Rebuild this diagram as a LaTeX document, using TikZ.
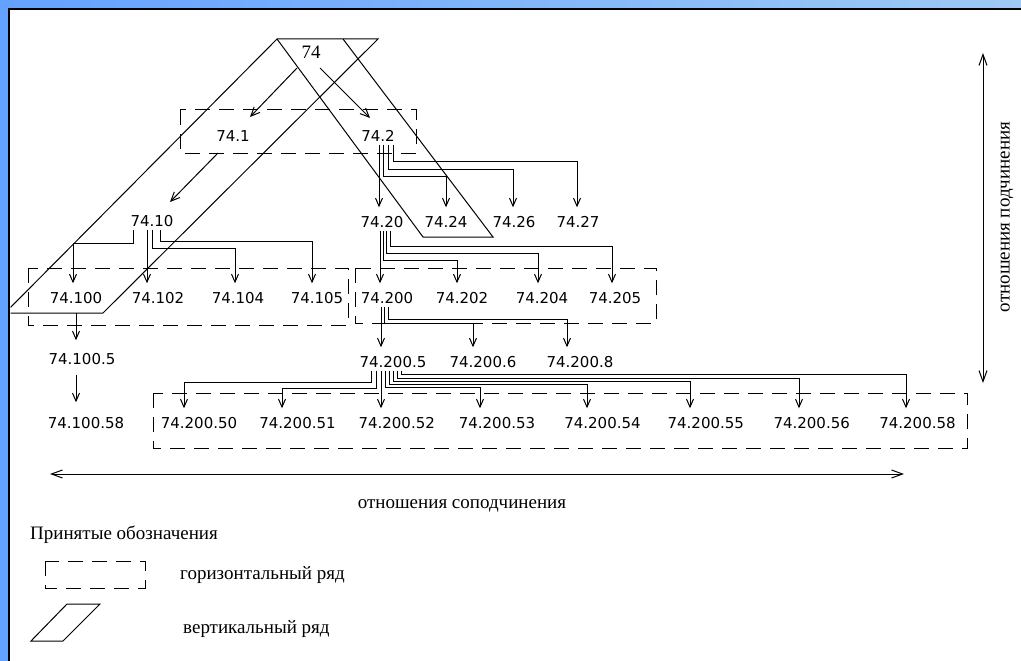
\documentclass[tikz,border=0pt]{standalone}
\usepackage{fontspec}
\setmainfont{Liberation Serif}
\newfontfamily\lblfont{DejaVu Sans}
\usetikzlibrary{arrows.meta}
\definecolor{bgL}{RGB}{100,162,255}
\definecolor{bgR}{RGB}{158,202,244}
\begin{document}
\begin{tikzpicture}[x=1pt,y=-1pt,
  lbl/.style={font=\lblfont\fontsize{15}{17}\selectfont, inner xsep=0pt, inner ysep=3pt, text height=11pt, text depth=0pt},
  ser/.style={font=\fontsize{19}{22}\selectfont, inner sep=0pt},
  arr/.style={line width=1pt, -{Straight Barb[length=8pt,width=7pt]}, shorten >=6pt},
  darr/.style={line width=1pt, -{Straight Barb[length=9pt,width=8pt]}},
  dbox/.style={line width=1pt, dash pattern=on 15pt off 9pt},
  par/.style={line width=1pt, line join=miter},
  big/.style={line width=1pt, {Straight Barb[length=11pt,width=8pt]}-{Straight Barb[length=11pt,width=8pt]}}
]
\useasboundingbox (0,0) rectangle (1021,661);
\shade[left color=bgL,right color=bgR] (0,0) rectangle (1021,661);
\fill[white] (9,9) rectangle (1021,661);
\draw[line width=2.5pt] (9,661) -- (9,9) -- (1021,9);

% vertical rows (parallelograms)
\begin{scope}
\clip (10.5,10.5) rectangle (1021,661);
\draw[par] (277,39) -- (378,39) -- (103,313) -- (5,313) -- cycle;
\draw[par] (277,39) -- (423,237) -- (493,237) -- (343,39);
\end{scope}

% horizontal rows (dashed boxes)
\draw[dbox] (180,110) rectangle (416,153);
\draw[dbox] (28,268) rectangle (348,325);
\draw[dbox] (355,268) rectangle (656,323);
\draw[dbox] (153,393) rectangle (967,448);

% nodes
\node[ser] (n74) at (311,52) {74};
\node[lbl] (n741) at (233,136) {74.1};
\node[lbl] (n742) at (378,136) {74.2};
\node[lbl] (n7410) at (152,221) {74.10};
\node[lbl] (n7420) at (382,222) {74.20};
\node[lbl] (n7424) at (446,222) {74.24};
\node[lbl] (n7426) at (514,222) {74.26};
\node[lbl] (n7427) at (578,222) {74.27};
\node[lbl] (n74100) at (76,298) {74.100};
\node[lbl] (n74102) at (158,298) {74.102};
\node[lbl] (n74104) at (238,298) {74.104};
\node[lbl] (n74105) at (317,298) {74.105};
\node[lbl] (n74200) at (387,298) {74.200};
\node[lbl] (n74202) at (462,298) {74.202};
\node[lbl] (n74204) at (542,298) {74.204};
\node[lbl] (n74205) at (615,298) {74.205};
\node[lbl] (n741005) at (82,359) {74.100.5};
\node[lbl] (n742005) at (393,362) {74.200.5};
\node[lbl] (n742006) at (483,362) {74.200.6};
\node[lbl] (n742008) at (580,362) {74.200.8};
\node[lbl] (n7410058) at (86,423) {74.100.58};
\node[lbl] (c50) at (199,423) {74.200.50};
\node[lbl] (c51) at (297.5,423) {74.200.51};
\node[lbl] (c52) at (396.7,423) {74.200.52};
\node[lbl] (c53) at (497,423) {74.200.53};
\node[lbl] (c54) at (602.5,423) {74.200.54};
\node[lbl] (c55) at (705.8,423) {74.200.55};
\node[lbl] (c56) at (811.7,423) {74.200.56};
\node[lbl] (c58) at (917.5,423) {74.200.58};

% diagonal arrows
\draw[darr] ([xshift=-14pt,yshift=-16pt]n74.center) -- ([xshift=17pt,yshift=19pt]n741.center);
\draw[darr] ([xshift=9pt,yshift=-16pt]n74.center) -- ([xshift=-8pt,yshift=18pt]n742.center);
\draw[darr] ([xshift=-15pt,yshift=-17pt]n741.center) -- ([xshift=18pt,yshift=19pt]n7410.center);

% 74.2 children
\draw[arr] ([xshift=1pt]n742.south) -- ([xshift=-3pt]n7420.north);
\draw[arr] ([xshift=5pt]n742.south) -- ++(0,31.5) -| (n7424.north);
\draw[arr] ([xshift=10pt]n742.south) -- ++(0,24.5) -| ([xshift=-1pt]n7426.north);
\draw[arr] ([xshift=15pt]n742.south) -- ++(0,16.5) -| ([xshift=-1pt]n7427.north);

% 74.20 children
\draw[arr] ([xshift=-2pt]n7420.south) -- ([xshift=-7pt]n74200.north);
\draw[arr] ([xshift=1pt]n7420.south) -- ++(0,29.5) -| ([xshift=-5pt]n74202.north);
\draw[arr] ([xshift=4pt]n7420.south) -- ++(0,22.5) -| ([xshift=-4pt]n74204.north);
\draw[arr] ([xshift=8pt]n7420.south) -- ++(0,15.5) -| ([xshift=-3pt]n74205.north);

% 74.10 children
\draw[arr] ([xshift=-19pt]n7410.south) -- ++(0,13.5) -| ([xshift=-3pt]n74100.north);
\draw[arr] ([xshift=-5pt]n7410.south) -- ([xshift=-11pt]n74102.north);
\draw[arr] (n7410.south) -- ++(0,18.5) -| ([xshift=-3pt]n74104.north);
\draw[arr] ([xshift=8pt]n7410.south) -- ++(0,11.5) -| ([xshift=-5pt]n74105.north);

% 74.200 children
\draw[arr] ([xshift=-6pt]n74200.south) -- ([xshift=-12pt]n742005.north);
\draw[arr] ([xshift=-3pt]n74200.south) -- ++(0,16.5) -| ([xshift=-10pt]n742006.north);
\draw[arr] ([xshift=1pt]n74200.south) -- ++(0,12.5) -| ([xshift=-13pt]n742008.north);

% 74.100 chain
\draw[arr, shorten <=6pt, shorten >=10pt] (n74100.south) -- ([xshift=-6pt]n741005.north);
\draw[arr, shorten <=7pt, shorten >=12pt] ([xshift=-6pt]n741005.south) -- ([xshift=-10pt]n7410058.north);

% 74.200.5 children
\draw[arr] ([xshift=-22pt]n742005.south) -- ++(0,11.5) -| ([xshift=-15pt]c50.north);
\draw[arr] ([xshift=-17pt]n742005.south) -- ++(0,17.5) -| ([xshift=-15.5pt]c51.north);
\draw[arr] ([xshift=-12pt]n742005.south) -- ([xshift=-15.7pt]c52.north);
\draw[arr] ([xshift=-8pt]n742005.south) -- ++(0,16.5) -| ([xshift=-17pt]c53.north);
\draw[arr] ([xshift=-4pt]n742005.south) -- ++(0,13.5) -| ([xshift=-15.5pt]c54.north);
\draw[arr] (n742005.south) -- ++(0,10.5) -| ([xshift=-15.8pt]c55.north);
\draw[arr] ([xshift=4pt]n742005.south) -- ++(0,7.5) -| ([xshift=-12.7pt]c56.north);
\draw[arr] ([xshift=8pt]n742005.south) -- ++(0,4) -| ([xshift=-11.5pt]c58.north);

% relation axes
\coordinate (hl) at (50,474);
\coordinate (hr) at (904,474);
\draw[big] (hl) -- (hr);
\node[ser, anchor=base] (tsop) at (462,508) {отношения соподчинения};
\coordinate (vt) at (983,53);
\coordinate (vb) at (983,383);
\draw[big] (vt) -- (vb);
\node[ser, rotate=90] (tpod) at (1007,217) {отношения подчинения};

% legend
\node[ser, anchor=base west] (leg) at (30,539) {Принятые обозначения};
\draw[dbox] (45,561) rectangle (145,588);
\node[ser, anchor=base west] (leg1) at (180,579) {горизонтальный ряд};
\draw[par] (31,641) -- (63,641) -- (100,604) -- (67,604) -- cycle;
\node[ser, anchor=base west] (leg2) at (183,633) {вертикальный ряд};
\end{tikzpicture}
\end{document}
